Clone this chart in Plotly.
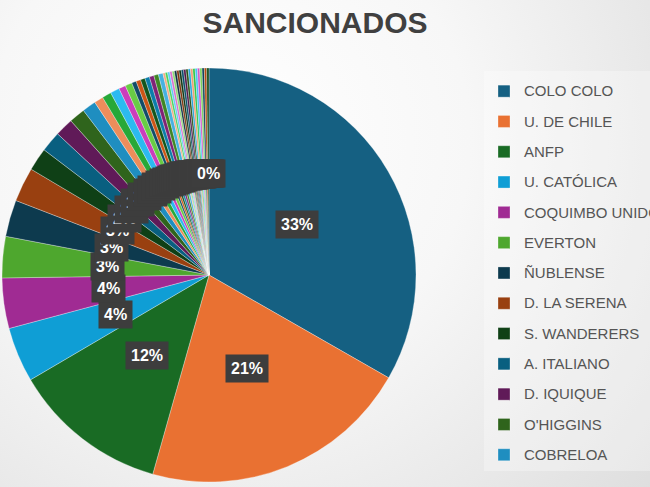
import base64
import math
import plotly.graph_objects as go

# equipos / entidades, en el orden de la planilla
clubs = ["COLO COLO", "U. DE CHILE", "ANFP", "U. CATÓLICA", "COQUIMBO UNIDO",
         "EVERTON", "ÑUBLENSE", "D. LA SERENA", "S. WANDERERS", "A. ITALIANO",
         "D. IQUIQUE", "O'HIGGINS", "COBRELOA", "HUACHIPATO", "U. ESPAÑOLA",
         "PALESTINO", "COBRESAL", "U. CONCEPCIÓN", "CURICÓ UNIDO", "MAGALLANES",
         "D. ANTOFAGASTA", "RANGERS", "S. MORNING", "D. TEMUCO", "P. MONTT",
         "D. COPIAPÓ", "SAN LUIS", "U. LA CALERA", "SAN MARCOS", "D. CONCEPCIÓN",
         "U. SAN FELIPE", "FERNÁNDEZ VIAL", "LOTA SCHWAGER", "D. LINARES",
         "BARNECHEA", "D. VALDIVIA", "D. MELIPILLA", "REC. VICTORIA",
         "GRAL. VELÁSQUEZ", "TRASANDINO", "PROV. OSORNO", "SAN ANTONIO U.",
         "INDEPENDIENTE", "D. RECOLETA", "LIMACHE"]

sancionados = [186, 118, 68, 24, 22, 18, 16, 15, 10, 9, 8, 7, 6,
               4, 4, 4, 3, 3, 2, 2,
               2, 2, 2, 2, 2, 1, 1, 1, 1, 1, 1, 1, 1, 1, 1, 1, 1, 1, 1, 1,
               1, 1, 1, 1, 1]

# paleta Office (acentos y sus variaciones)
colores = ["#156082", "#E97132", "#196B24", "#0F9ED5", "#A02B93", "#4EA72E",
           "#0D3A4E", "#994010", "#0F4016", "#095F80", "#601A58", "#2F641C",
           "#1F8EC0", "#ED8D5B", "#27A838", "#2CBAF0", "#CB3DBB", "#69CC45",
           "#114D68", "#CC5516", "#14561D", "#0C7EAA", "#802276", "#3F8625",
           "#46B1E1", "#F2AA84", "#47D45A", "#61CBF4", "#D86ECC", "#8ED974",
           "#0A3041", "#80350E", "#0D3512", "#084F6A", "#501649", "#275417",
           "#27A4DC", "#F09C70", "#2FC743", "#47C2F2", "#D156C4", "#7BD25C",
           "#0F435B", "#B34A13", "#114B19"]

W, H = 650, 487
dom_x = [2 / W, 416 / W]
dom_y = [5 / H, 419 / H]

# etiquetas de leyenda (texto chico, renglon alto para el espaciado)
etiquetas = ['<span style="font-size:15px;baseline-shift:3px">%s</span>' % c
             for c in clubs]

fig = go.Figure()
fig.add_trace(go.Pie(
    labels=etiquetas,
    values=sancionados,
    sort=False,
    direction="clockwise",
    rotation=0,
    textinfo="none",
    marker=dict(colors=colores,
                line=dict(color="rgba(255,255,255,0.5)", width=0.6)),
    domain=dict(x=dom_x, y=dom_y),
    hovertext=clubs,
    hoverinfo="text+value+percent",
))

# etiquetas de porcentaje (como en Excel: todas a media distancia del centro)
R = min((dom_x[1] - dom_x[0]) * W, (dom_y[1] - dom_y[0]) * H) / 2
cx = (dom_x[0] + dom_x[1]) / 2
cy = (dom_y[0] + dom_y[1]) / 2
total = sum(sancionados)
anots = []
acum = 0
for v in sancionados:
    mid = (acum + v / 2) / total
    acum += v
    a = 2 * math.pi * mid
    anots.append(dict(
        x=cx + 0.49 * R * math.sin(a) / W,
        y=cy + 0.49 * R * math.cos(a) / H,
        xref="paper", yref="paper", xanchor="center", yanchor="middle",
        text="%d%%" % int(100 * v / total + 0.5),
        showarrow=False,
        bgcolor="#3d3d3d",
        borderpad=5,
        font=dict(family="Liberation Sans", size=16, color="white", weight="bold"),
    ))

fondo = ('<svg xmlns="http://www.w3.org/2000/svg" width="650" height="487" '
         'viewBox="0 0 650 487" preserveAspectRatio="none"><defs>'
         '<radialGradient id="g" cx="230" cy="140" r="600" gradientUnits="userSpaceOnUse">'
         '<stop offset="0" stop-color="#ffffff"/><stop offset="0.4" stop-color="#f7f7f7"/>'
         '<stop offset="1" stop-color="#dadada"/></radialGradient></defs>'
         '<rect width="650" height="487" fill="url(#g)"/></svg>')
fondo_src = "data:image/svg+xml;base64," + base64.b64encode(fondo.encode()).decode()

fig.update_layout(
    width=W, height=H,
    margin=dict(l=0, r=0, t=0, b=0, autoexpand=False),
    paper_bgcolor="#f2f2f2",
    title=dict(text="<b>SANCIONADOS</b>", x=315 / W, xanchor="center",
               y=1 - 22 / H, yanchor="middle", yref="container",
               font=dict(family="Liberation Sans", size=30, color="#404040")),
    images=[dict(source=fondo_src, xref="paper", yref="paper", x=0, y=1,
                 sizex=1, sizey=1, sizing="stretch", layer="below")],
    legend=dict(x=484 / W, xanchor="left", y=1 - 71 / H, yanchor="top",
                font=dict(family="Liberation Sans", size=21, color="#555555"),
                bgcolor="rgba(255,255,255,0.3)", maxheight=400),
    annotations=anots,
)

fig.write_html("out.html", config={"displayModeBar": False},
               post_script="document.body.style.margin = '0';")
